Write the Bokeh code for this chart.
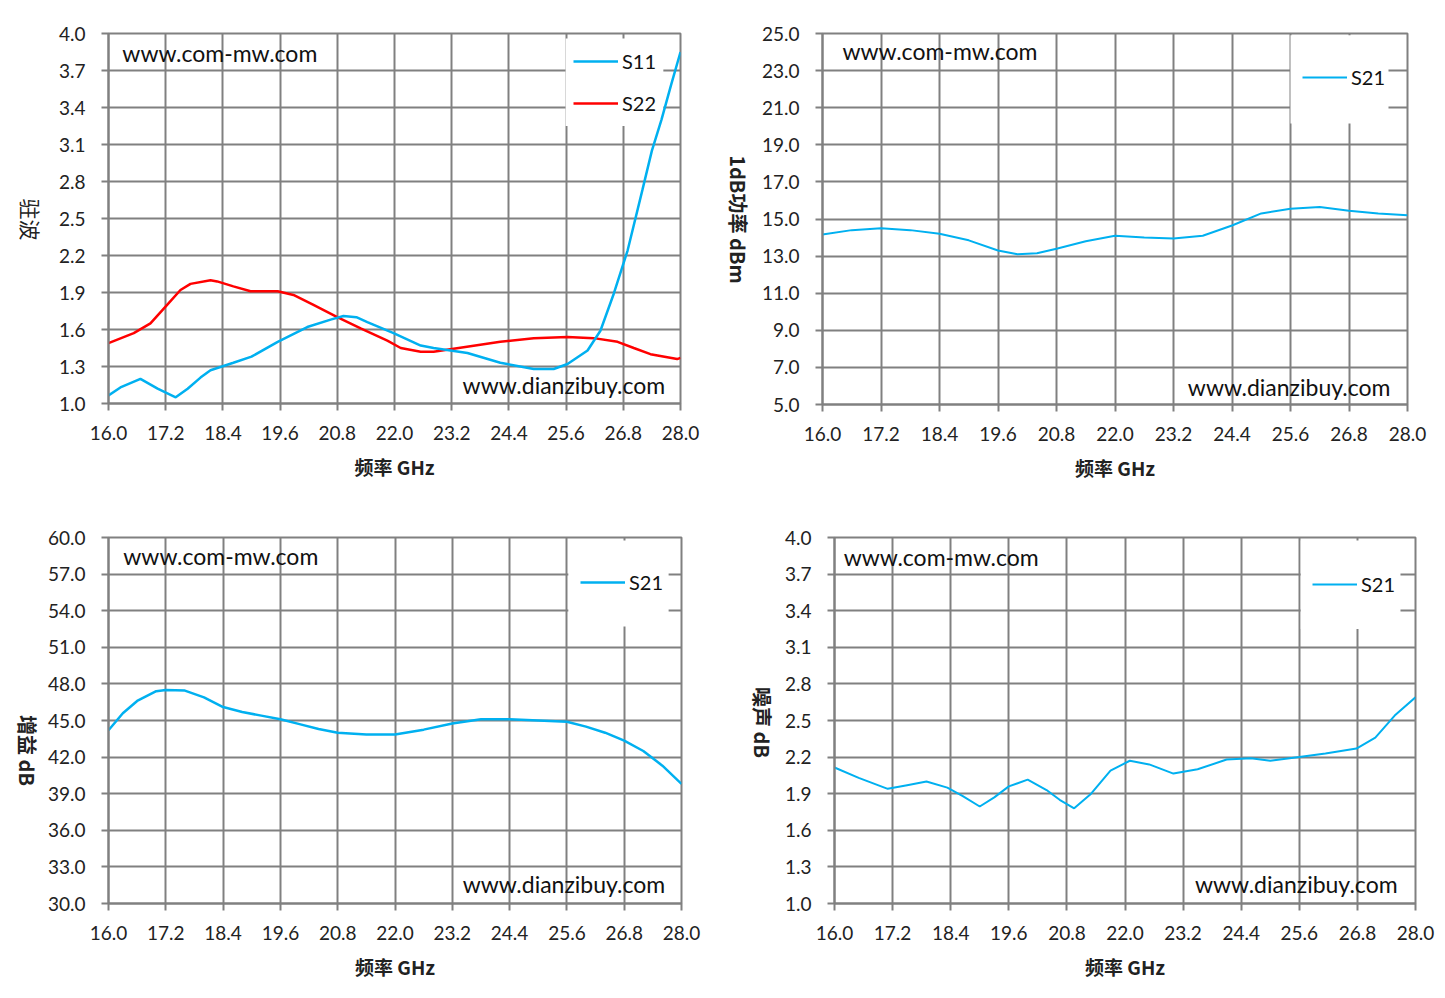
import math
from bokeh.plotting import figure
from bokeh.layouts import column, row
from bokeh.models import (Range1d, FixedTicker, NumeralTickFormatter, Label,
                          BoxAnnotation)
from bokeh.embed import file_html
from bokeh.resources import INLINE

# ---------------- data ----------------
x_ticks = [16.0, 17.2, 18.4, 19.6, 20.8, 22.0, 23.2, 24.4, 25.6, 26.8, 28.0]
vswr_ticks = [1.0, 1.3, 1.6, 1.9, 2.2, 2.5, 2.8, 3.1, 3.4, 3.7, 4.0]
p1db_ticks = [5.0, 7.0, 9.0, 11.0, 13.0, 15.0, 17.0, 19.0, 21.0, 23.0, 25.0]
gain_ticks = [30.0, 33.0, 36.0, 39.0, 42.0, 45.0, 48.0, 51.0, 54.0, 57.0, 60.0]
nf_ticks = [1.0, 1.3, 1.6, 1.9, 2.2, 2.5, 2.8, 3.1, 3.4, 3.7, 4.0]

s11_f = [16.0, 16.25, 16.67, 17.03, 17.41, 17.66, 17.93, 18.14, 18.62, 19.0,
         19.55, 20.17, 20.66, 20.93, 21.2, 21.43, 21.98, 22.55, 22.82, 23.53,
         24.22, 24.92, 25.34, 25.63, 26.05, 26.32, 26.6, 26.89, 27.2, 27.4,
         27.6, 27.8, 28.0]
s11_v = [1.065, 1.13, 1.20, 1.12, 1.05, 1.12, 1.21, 1.27, 1.33, 1.38,
         1.50, 1.62, 1.68, 1.71, 1.70, 1.66, 1.57, 1.47, 1.45, 1.41,
         1.33, 1.28, 1.28, 1.32, 1.43, 1.59, 1.89, 2.24, 2.73, 3.05,
         3.30, 3.58, 3.85]

s22_f = [16.0, 16.53, 16.88, 17.23, 17.51, 17.72, 18.14, 18.28, 18.62, 18.98,
         19.55, 19.88, 20.3, 20.8, 21.29, 21.85, 22.13, 22.55, 22.82, 23.17,
         24.22, 24.92, 25.63, 26.18, 26.68, 27.02, 27.37, 27.93, 28.0]
s22_v = [1.49, 1.57, 1.65, 1.80, 1.92, 1.97, 2.00, 1.99, 1.95, 1.91,
         1.91, 1.88, 1.80, 1.70, 1.61, 1.51, 1.45, 1.42, 1.42, 1.44,
         1.50, 1.53, 1.54, 1.53, 1.50, 1.45, 1.40, 1.36, 1.37]

p1db_f = [16.0, 16.6, 17.2, 17.8, 18.4, 19.0, 19.6, 20.0, 20.4, 20.8, 21.4,
          22.0, 22.6, 23.2, 23.8, 24.4, 25.0, 25.6, 26.2, 26.8, 27.4, 28.0]
p1db_v = [14.16, 14.4, 14.5, 14.4, 14.2, 13.85, 13.3, 13.1, 13.15, 13.4, 13.8,
          14.1, 14.0, 13.95, 14.1, 14.65, 15.3, 15.55, 15.65, 15.45, 15.3, 15.2]

gain_f = [16.0, 16.3, 16.6, 17.0, 17.2, 17.6, 18.0, 18.4, 18.8, 19.2, 19.6,
          20.0, 20.4, 20.8, 21.4, 22.0, 22.6, 23.2, 23.8, 24.4, 25.0, 25.6,
          26.0, 26.4, 26.8, 27.2, 27.6, 28.0]
gain_v = [44.2, 45.6, 46.6, 47.4, 47.5, 47.45, 46.9, 46.1, 45.7, 45.4, 45.1,
          44.7, 44.3, 44.0, 43.85, 43.85, 44.25, 44.75, 45.1, 45.1, 45.0, 44.9,
          44.5, 44.0, 43.35, 42.5, 41.3, 39.8]

nf_f = [16.0, 16.5, 17.1, 17.5, 17.9, 18.33, 18.65, 19.0, 19.3, 19.6, 19.99,
        20.38, 20.65, 20.95, 21.3, 21.7, 22.1, 22.5, 23.0, 23.5, 24.1, 24.6,
        25.0, 25.6, 26.14, 26.78, 27.17, 27.57, 28.0]
nf_v = [2.115, 2.03, 1.94, 1.97, 2.00, 1.95, 1.88, 1.795, 1.87, 1.96, 2.015,
        1.93, 1.85, 1.78, 1.90, 2.09, 2.17, 2.14, 2.065, 2.10, 2.18, 2.19,
        2.17, 2.20, 2.23, 2.27, 2.36, 2.54, 2.69]

GRID = "#808080"
BLUE = "#00B0F0"
RED = "#FF0000"
TICK_FONT = "Lato"
CJK = "Noto Sans CJK SC"


def make_fig(yr, yticks, fw, fh, bl, br, bt, bb):
    p = figure(frame_width=fw, frame_height=fh,
               min_border_left=bl, min_border_right=br,
               min_border_top=bt, min_border_bottom=bb,
               x_range=Range1d(16.0, 28.0), y_range=Range1d(*yr),
               output_backend="svg", toolbar_location=None)
    p.outline_line_color = GRID
    p.outline_line_width = 2
    p.background_fill_color = "white"
    p.border_fill_color = "white"
    for g in (p.xgrid, p.ygrid):
        g.grid_line_color = GRID
        g.grid_line_width = 2
    p.xgrid.ticker = FixedTicker(ticks=x_ticks)
    p.ygrid.ticker = FixedTicker(ticks=yticks)
    p.xaxis.ticker = FixedTicker(ticks=x_ticks)
    p.yaxis.ticker = FixedTicker(ticks=yticks)
    for ax in (p.xaxis, p.yaxis):
        ax.formatter = NumeralTickFormatter(format="0.0")
        ax.axis_line_color = GRID
        ax.axis_line_width = 2
        ax.major_tick_line_color = GRID
        ax.major_tick_line_width = 2
        ax.major_tick_in = 0
        ax.major_tick_out = 7
        ax.minor_tick_line_color = None
        ax.major_label_text_font = TICK_FONT
        ax.major_label_text_font_size = "19px"
        ax.major_label_text_color = "#222222"
    p.xaxis.major_label_standoff = 15
    p.yaxis.major_label_standoff = 16
    p.xaxis.axis_label = "频率 GHz"
    p.xaxis.axis_label_text_font = CJK
    p.xaxis.axis_label_text_font_style = "bold"
    p.xaxis.axis_label_text_font_size = "19px"
    p.xaxis.axis_label_text_color = "#222222"
    p.xaxis.axis_label_standoff = 10
    return p


def label_strip(w, fh, bt, bb, cx, cy, text, bold, size):
    """Narrow strip left of a chart holding its vertical y-axis title.
    cy is measured from the top of the strip's frame."""
    s = figure(frame_width=w, frame_height=fh,
               min_border_left=0, min_border_right=0,
               min_border_top=bt, min_border_bottom=bb,
               x_range=Range1d(0, w), y_range=Range1d(0, fh),
               x_axis_type=None, y_axis_type=None,
               output_backend="svg", toolbar_location=None)
    s.grid.visible = False
    s.outline_line_color = None
    s.background_fill_color = "white"
    s.border_fill_color = "white"
    s.add_layout(Label(x=cx, y=fh - cy, text=text, angle=-math.pi / 2,
                       text_font=CJK, text_font_size=size,
                       text_font_style="bold" if bold else "normal",
                       text_align="center", text_baseline="middle",
                       text_color="#222222"))
    return s


def watermarks(p, x1, y1, x2, y2):
    p.add_layout(Label(x=x1, y=y1, text="www.com-mw.com", text_font=TICK_FONT,
                       text_font_size="23px", text_baseline="middle",
                       text_align="left", text_color="#111111"))
    p.add_layout(Label(x=x2, y=y2, text="www.dianzibuy.com", text_font=TICK_FONT,
                       text_font_size="23px", text_baseline="middle",
                       text_align="right", text_color="#111111"))


def style_legend(p, loc):
    lg = p.legend[0]
    lg.location = loc
    lg.margin = 0
    lg.padding = 0
    lg.spacing = 18
    lg.glyph_width = 45
    lg.glyph_height = 20
    lg.label_height = 20
    lg.label_standoff = 4
    lg.label_text_font = TICK_FONT
    lg.label_text_font_size = "20px"
    lg.label_text_color = "#111111"
    lg.background_fill_alpha = 0
    lg.border_line_color = None


def legend_box(p, l, r, t, b):
    p.add_layout(BoxAnnotation(left=l, right=r, top=t, bottom=b,
                               fill_color="white", fill_alpha=1.0,
                               line_color=None, level="underlay"))


# ---------- panel 1: VSWR ----------
l1 = label_strip(44, 370, 33, 97, 30, 186, "驻波", False, "21px")
p1 = make_fig((1.0, 4.0), vswr_ticks, 572, 370, 64, 40, 33, 97)
legend_box(p1, 25.59, 27.64, 3.96, 3.25)
p1.line(s22_f, s22_v, color=RED, line_width=2.5, legend_label="S22")
p1.line(s11_f, s11_v, color=BLUE, line_width=2.5, legend_label="S11")
p1.legend[0].items = list(reversed(p1.legend[0].items))
style_legend(p1, (465, 288))
watermarks(p1, 16.29, 3.84, 27.68, 1.154)

# ---------- panel 2: P1dB ----------
l2 = label_strip(36, 370, 33, 97, 18, 186, "1dB功率 dBm", True, "20px")
p2 = make_fig((5.0, 25.0), p1db_ticks, 585, 371, 66, 30, 32, 97)
legend_box(p2, 25.6, 27.61, 24.9, 20.15)
p2.line(p1db_f, p1db_v, color=BLUE, line_width=2, legend_label="S21")
style_legend(p2, (480, 315))
watermarks(p2, 16.41, 24.03, 27.65, 5.97)

# ---------- panel 3: Gain ----------
l3 = label_strip(44, 366, 37, 87, 27, 213, "增益 dB", True, "20px")
p3 = make_fig((30.0, 60.0), gain_ticks, 573, 366, 64, 39, 37, 87)
legend_box(p3, 25.63, 27.73, 59.75, 52.7)
p3.line(gain_f, gain_v, color=BLUE, line_width=2.5, legend_label="S21")
style_legend(p3, (472, 309))
watermarks(p3, 16.31, 58.5, 27.66, 31.56)

# ---------- panel 4: Noise figure ----------
l4 = label_strip(58, 366, 37, 87, 42, 185, "噪声 dB", True, "20px")
p4 = make_fig((1.0, 4.0), nf_ticks, 581, 366, 56, 22, 37, 87)
legend_box(p4, 25.63, 27.69, 3.975, 3.25)
p4.line(nf_f, nf_v, color=BLUE, line_width=2, legend_label="S21")
style_legend(p4, (478, 307))
watermarks(p4, 16.19, 3.84, 27.63, 1.156)

layout = column(row(l1, p1, l2, p2), row(l3, p3, l4, p4))
open("out.html", "w").write(file_html(layout, INLINE))
